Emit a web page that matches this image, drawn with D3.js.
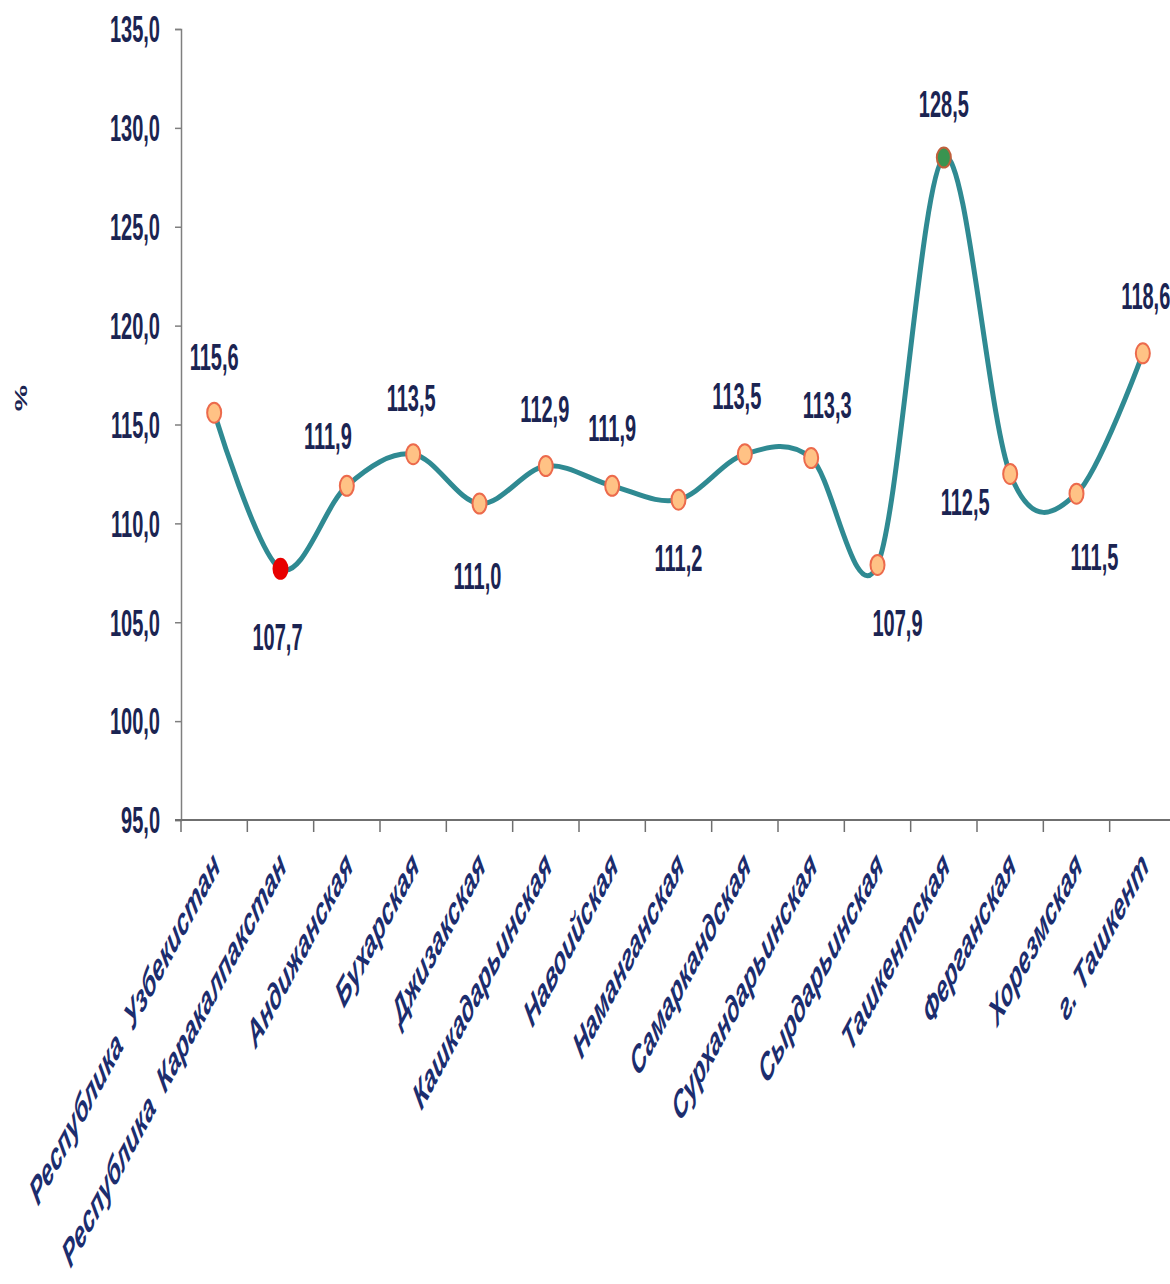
<!DOCTYPE html>
<html>
<head>
<meta charset="utf-8">
<script src="https://cdn.jsdelivr.net/npm/d3@7"></script>
<style>
  body { margin: 0; background: #fff; }
  svg { display: block; }
</style>
</head>
<body>
<svg width="1170" height="1284"></svg>
<script>
var categories = [
  "Республика  Узбекистан", "Республика  Каракалпакстан", "Андижанская", "Бухарская",
  "Джизакская", "Кашкадарьинская", "Навоийская", "Наманганская", "Самаркандская",
  "Сурхандарьинская", "Сырдарьинская", "Ташкентская", "Ферганская", "Хорезмская", "г. Ташкент"
];
var values = [115.6, 107.7, 111.9, 113.5, 111.0, 112.9, 111.9, 111.2, 113.5, 113.3, 107.9, 128.5, 112.5, 111.5, 118.6];
var yTicks = [95, 100, 105, 110, 115, 120, 125, 130, 135];
var yTitle = "%";

// label placement relative to its point (pixels)
var labelOffsets = [
  [0, -56], [-3, 68], [-19, -50], [-2, -56], [-2, 72], [-1, -57], [0, -58], [0, 58],
  [-8, -58], [16, -53], [20, 58], [0, -54], [-45, 28], [18, 63], [3, -58]
];

function fmt(v) { return v.toFixed(1).replace(".", ","); }

function main() {
  var svg = d3.select("svg");
  var stretch = 1.85;
  var navy = "#1b2452";
  var catColor = "#1c2d6e";

  var x = d3.scaleBand().domain(categories).range([181, 1176]).padding(0);
  var y = d3.scaleLinear().domain([95, 135]).range([820, 29]);

  // y axis
  var gy = svg.append("g").attr("transform", "translate(181,0)")
    .call(d3.axisLeft(y).tickValues(yTicks).tickSize(6).tickFormat(""));
  gy.select(".domain").attr("stroke", "#7f7f7f").attr("stroke-width", 1.5);
  gy.selectAll(".tick line").attr("stroke", "#7f7f7f").attr("stroke-width", 1.5);

  svg.append("g").selectAll("text").data(yTicks).enter().append("text")
    .attr("transform", d => "translate(160," + y(d) + ") scale(1," + stretch + ")")
    .attr("text-anchor", "end")
    .attr("dy", "0.36em")
    .attr("font-family", "Liberation Sans, Arial, sans-serif")
    .attr("font-weight", "bold")
    .attr("font-size", 20)
    .attr("fill", navy)
    .text(d => fmt(d));

  // x axis
  var gx = svg.append("g").attr("transform", "translate(0,820)")
    .call(d3.axisBottom(x).tickSize(0).tickFormat(""));
  gx.select(".domain").attr("d", "M175,0H1170").attr("stroke", "#6f6f6f").attr("stroke-width", 2);
  var edges = categories.map(c => x(c)).concat([x.range()[1]]);
  gx.selectAll(".edge").data(edges).enter().append("line")
    .attr("x1", d => d).attr("x2", d => d)
    .attr("y1", 0).attr("y2", 12)
    .attr("stroke", "#6f6f6f").attr("stroke-width", 1.5);

  svg.append("g").selectAll("text").data(categories).enter().append("text")
    .attr("transform", d => "translate(" + (x(d) + x.bandwidth() / 2 + 7) + ",868) scale(1," + stretch + ") rotate(-45)")
    .attr("text-anchor", "end")
    .attr("font-family", "Liberation Sans, Arial, sans-serif")
    .attr("font-weight", "bold")
    .attr("font-style", "italic")
    .attr("font-size", 20.8)
    .attr("fill", catColor)
    .style("white-space", "pre")
    .text(d => d);

  // y title
  svg.append("text")
    .attr("transform", "translate(27,398) scale(1," + stretch + ") rotate(-90)")
    .attr("text-anchor", "middle")
    .attr("font-family", "Liberation Sans, Arial, sans-serif")
    .attr("font-weight", "bold")
    .attr("font-size", 16)
    .attr("fill", navy)
    .text(yTitle);

  // line
  var cx = (d, i) => x(categories[i]) + x.bandwidth() / 2;
  var line = d3.line().x(cx).y(d => y(d)).curve(d3.curveCardinal.tension(0));
  svg.append("path").datum(values)
    .attr("d", line)
    .attr("fill", "none")
    .attr("stroke", "#2f8a92")
    .attr("stroke-width", 5)
    .attr("stroke-linecap", "round");

  // markers
  var minIdx = values.indexOf(d3.min(values));
  var maxIdx = values.indexOf(d3.max(values));
  svg.append("g").selectAll("ellipse").data(values).enter().append("ellipse")
    .attr("cx", cx).attr("cy", d => y(d))
    .attr("rx", 7).attr("ry", 10)
    .attr("fill", (d, i) => i === minIdx ? "#e80000" : i === maxIdx ? "#3a9450" : "#ffc285")
    .attr("stroke", (d, i) => i === minIdx ? "#e80000" : i === maxIdx ? "#c0603c" : "#ec6a4c")
    .attr("stroke-width", 2);

  // data labels
  svg.append("g").selectAll("text").data(values).enter().append("text")
    .attr("transform", (d, i) => "translate(" + (cx(d, i) + labelOffsets[i][0]) + "," + (y(d) + labelOffsets[i][1]) + ") scale(1," + stretch + ")")
    .attr("text-anchor", "middle")
    .attr("dy", "0.36em")
    .attr("font-family", "Liberation Sans, Arial, sans-serif")
    .attr("font-weight", "bold")
    .attr("font-size", 20)
    .attr("fill", navy)
    .text(d => fmt(d));
}

window.onload = function() {
  main();
};
</script>
</body>
</html>
